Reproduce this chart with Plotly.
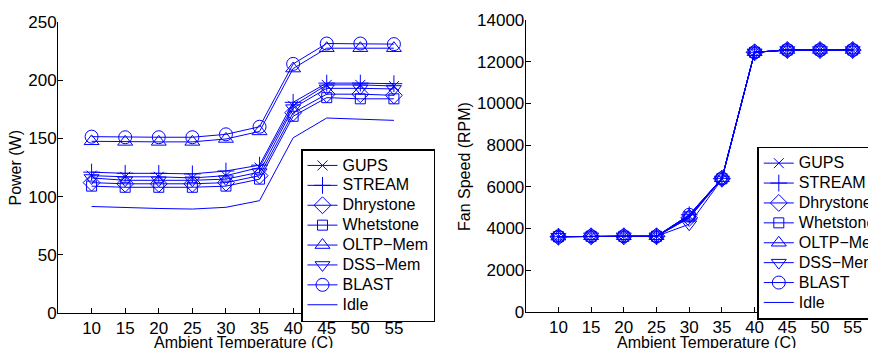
import plotly.graph_objects as go

temps = [10, 15, 20, 25, 30, 35, 40, 45, 50, 55]
series_names = ["GUPS", "STREAM", "Dhrystone", "Whetstone", "OLTP\u2212Mem", "DSS\u2212Mem", "BLAST", "Idle"]

power_gups = [118, 117, 117, 116, 118, 125, 178, 196, 196, 195]
power_stream = [121, 120, 120, 119.5, 122, 127, 181, 197.5, 197.5, 197]
power_dhrystone = [112, 111, 111, 111, 112, 118, 172, 188, 188, 187]
power_whetstone = [109, 108, 108, 108, 109, 115, 169, 185, 184, 184]
power_oltp = [147.5, 147, 147, 147, 149.5, 156, 210, 227.5, 227.5, 227.5]
power_dss = [116, 114, 114, 114, 115, 121, 176, 193, 193, 192.5]
power_blast = [151.5, 151, 151, 151, 153.5, 160, 214, 231.5, 231.5, 231]
power_idle = [91.5, 90.5, 89.8, 89.3, 90.8, 96.5, 150.5, 167.5, 166.5, 165.5]

fan_gups = [3600, 3620, 3620, 3620, 4600, 6380, 12450, 12560, 12560, 12560]
fan_stream = [3600, 3620, 3620, 3620, 4650, 6400, 12450, 12560, 12560, 12560]
fan_dhrystone = [3600, 3620, 3620, 3620, 4500, 6380, 12450, 12560, 12560, 12560]
fan_whetstone = [3600, 3620, 3620, 3620, 4550, 6380, 12450, 12560, 12560, 12560]
fan_oltp = [3600, 3620, 3620, 3620, 4600, 6400, 12450, 12560, 12560, 12560]
fan_dss = [3600, 3620, 3620, 3620, 4200, 6350, 12450, 12560, 12560, 12560]
fan_blast = [3600, 3620, 3620, 3620, 4650, 6400, 12450, 12560, 12560, 12560]
fan_idle = [3600, 3620, 3620, 3620, 4500, 6380, 12450, 12560, 12560, 12560]

power_ticks = [0, 50, 100, 150, 200, 250]
fan_ticks = [0, 2000, 4000, 6000, 8000, 10000, 12000, 14000]

power_all = [power_gups, power_stream, power_dhrystone, power_whetstone,
             power_oltp, power_dss, power_blast, power_idle]
fan_all = [fan_gups, fan_stream, fan_dhrystone, fan_whetstone,
           fan_oltp, fan_dss, fan_blast, fan_idle]

symbols = ["x-thin-open", "cross-thin-open", "diamond-open", "square-open",
           "triangle-up-open", "triangle-down-open", "circle-open", None]
sizes = [10, 12, 13, 10, 13, 13, 13, 0]

BLUE = "#0000FF"
FONT = "Liberation Sans, Arial, sans-serif"
W, H = 868, 340  # page has an 8px body margin; window is 876x348

fig = go.Figure()

for data, xa, ya, lg in [(power_all, "x", "y", "legend"), (fan_all, "x2", "y2", "legend2")]:
    for name, vals, sym, sz in zip(series_names, data, symbols, sizes):
        label = '<span style="font-size:16px">' + name + '</span>'
        if sym is None:
            fig.add_trace(go.Scatter(x=temps, y=vals, name=label, mode="lines",
                                     line=dict(color=BLUE, width=1),
                                     xaxis=xa, yaxis=ya, legend=lg))
        else:
            fig.add_trace(go.Scatter(x=temps, y=vals, name=label, mode="lines+markers",
                                     line=dict(color=BLUE, width=1),
                                     marker=dict(symbol=sym, size=sz, color=BLUE,
                                                 line=dict(color=BLUE, width=1)),
                                     xaxis=xa, yaxis=ya, legend=lg))

axis_common = dict(showgrid=False, zeroline=False, showline=True, linecolor="black",
                   linewidth=1, ticks="inside", ticklen=5, tickcolor="black",
                   tickfont=dict(family=FONT, size=17, color="black"), mirror=False)

legend_common = dict(xanchor="left", yanchor="top", bordercolor="black", borderwidth=1.5,
                     bgcolor="white", font=dict(family=FONT, size=13, color="black"),
                     tracegroupgap=0, itemwidth=30)

fig.update_layout(
    width=W, height=H,
    margin=dict(l=0, r=0, t=0, b=0, autoexpand=False),
    paper_bgcolor="white", plot_bgcolor="white",
    font=dict(family=FONT, size=16, color="black"),
    showlegend=True,
    xaxis=dict(domain=[50 / W, 419.5 / W], range=[5, 60], tickvals=temps, anchor="y", **axis_common),
    yaxis=dict(domain=[35 / H, 326 / H], range=[0, 250], tickvals=power_ticks,
               anchor="x", ticklabelstandoff=-3, **axis_common),
    xaxis2=dict(domain=[517.7 / W, 1.0], range=[5, 58.56], tickvals=temps, anchor="y2", **axis_common),
    yaxis2=dict(domain=[36.3 / H, 328 / H], range=[0, 14000], tickvals=fan_ticks,
                tickformat="d", anchor="x2", ticklabelstandoff=-3, **axis_common),
    legend=dict(x=293 / W, y=1 - 141 / H, **legend_common),
    legend2=dict(x=749.3 / W, y=1 - 138.7 / H, **legend_common),
    annotations=[
        dict(text="Power (W)", x=7 / W, y=1 - 159.5 / H, xref="paper", yref="paper",
             textangle=-90, showarrow=False, xanchor="center", yanchor="middle",
             font=dict(family=FONT, size=16, color="black")),
        dict(text="Fan Speed (RPM)", x=456 / W, y=1 - 158 / H, xref="paper", yref="paper",
             textangle=-90, showarrow=False, xanchor="center", yanchor="middle",
             font=dict(family=FONT, size=16, color="black")),
        dict(text="Ambient Temperature (C)", x=235 / W, y=1 - 334 / H, xref="paper", yref="paper",
             showarrow=False, xanchor="center", yanchor="middle",
             font=dict(family=FONT, size=16, color="black")),
        dict(text="Ambient Temperature (C)", x=698 / W, y=1 - 334 / H, xref="paper", yref="paper",
             showarrow=False, xanchor="center", yanchor="middle",
             font=dict(family=FONT, size=16, color="black")),
    ],
)

fig.write_html("out.html")
